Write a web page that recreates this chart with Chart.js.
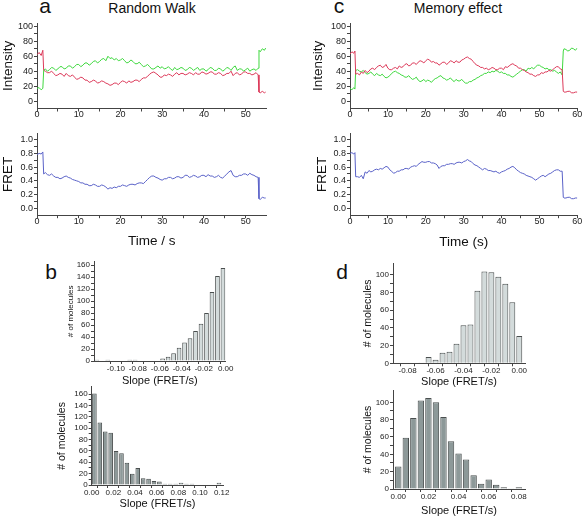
<!DOCTYPE html>
<html lang="en">
<head>
    <meta charset="UTF-8">
    <title>Random Walk / Memory effect</title>
    <script src="https://cdn.jsdelivr.net/npm/chart.js"></script>
    <style>
        body {
            margin: 0;
            width: 583px;
            height: 517px;
            overflow: hidden;
            position: relative;
            background: #fff;
            font-family: Arial, "Liberation Sans", sans-serif;
        }
        canvas { position: absolute; }
        .lbl {
            position: absolute;
            transform: translate(-50%, -50%);
            white-space: nowrap;
            line-height: 1;
            color: #111;
        }
    </style>
</head>
<body>
    <div class="lbl" style="left:45px;top:5px;font-size:21px">a</div>
    <div class="lbl" style="left:152px;top:8px;font-size:14px">Random Walk</div>
    <div class="lbl" style="left:339px;top:5px;font-size:21px">c</div>
    <div class="lbl" style="left:458px;top:8px;font-size:14px">Memory effect</div>
    <div class="lbl" style="left:51px;top:271px;font-size:21px">b</div>
    <div class="lbl" style="left:342px;top:271px;font-size:21px">d</div>

    <script>
        // ---- time traces, panel a (random walk) ----
        const timeA = [0, 0.5, 1, 1.4, 1.6, 2, 2.5, 3, 3.5, 4, 4.5, 5, 5.5, 6, 6.5, 7, 7.5, 8, 8.5, 9, 9.5, 10, 10.5,
            11, 11.5, 12, 12.5, 13, 13.5, 14, 14.5, 15, 15.5, 16, 16.5, 17, 17.5, 18, 18.5, 19, 19.5, 20, 20.5,
            21, 21.5, 22, 22.5, 23, 23.5, 24, 24.5, 25, 25.5, 26, 26.5, 27, 27.5, 28, 28.5, 29, 29.5, 30, 30.5,
            31, 31.5, 32, 32.5, 33, 33.5, 34, 34.5, 35, 35.5, 36, 36.5, 37, 37.5, 38, 38.5, 39, 39.5, 40, 40.5,
            41, 41.5, 42, 42.5, 43, 43.5, 44, 44.5, 45, 45.5, 46, 46.5, 47, 47.5, 48, 48.5, 49, 49.5, 50, 50.5,
            51, 51.5, 52, 52.5, 53, 53.2, 53.5, 54, 54.5, 54.8];
        const donorA = [17, 18, 15, 17, 41,
            43, 40, 42, 45, 44, 41, 43, 46, 46, 43, 44, 47, 47, 44, 46, 49, 49, 46, 48, 51,
            51, 48, 50, 53, 54, 51, 53, 56, 57, 54, 60, 57, 58, 55, 57, 54, 55, 57, 54, 51,
            52, 55, 53, 50, 50, 52, 49, 46, 47, 49, 46, 43, 43, 45, 47, 44, 46, 43, 44, 46,
            43, 41, 45, 42, 43, 45, 44, 41, 42, 45, 44, 41, 43, 45, 41, 43, 43, 40, 42, 45,
            44, 41, 41, 44, 43, 40, 42, 45, 44, 41, 45, 47, 41, 43, 43, 40, 42, 44, 40, 42,
            43, 41, 44,
            68, 66, 70, 68, 71];
        const acceptorA = [62, 65, 61, 68, 41,
            40, 38, 38, 40, 37, 34, 35, 37, 36, 33, 37, 34, 33, 35, 32, 29, 30, 32, 31, 28,
            28, 25, 26, 28, 27, 24, 25, 27, 26, 24, 23, 21, 22, 24, 24, 22, 25, 27, 26, 24,
            27, 25, 26, 28, 28, 26, 29, 31, 31, 33, 36, 38, 39, 37, 35, 32, 32, 35, 34, 36,
            35, 33, 36, 38, 35, 37, 37, 35, 36, 38, 37, 35, 38, 36, 36, 39, 38, 36, 37, 39,
            39, 36, 36, 38, 37, 34, 35, 37, 37, 40, 34, 37, 38, 35, 36, 39, 39, 37, 37, 35,
            36, 38, 35,
            12, 11, 13, 11, 12];
        const fretA = [0.78, 0.80, 0.79, 0.82, 0.50,
            0.52, 0.49, 0.48, 0.50, 0.47, 0.45, 0.45, 0.43, 0.44, 0.46, 0.47, 0.45, 0.44, 0.42, 0.41, 0.40, 0.39, 0.37, 0.37, 0.35,
            0.35, 0.33, 0.33, 0.35, 0.34, 0.32, 0.32, 0.34, 0.33, 0.31, 0.28, 0.30, 0.29, 0.31, 0.30, 0.32, 0.32, 0.34, 0.33, 0.32,
            0.34, 0.35, 0.35, 0.34, 0.36, 0.37, 0.37, 0.36, 0.39, 0.42, 0.45, 0.47, 0.47, 0.45, 0.44, 0.42, 0.41, 0.43, 0.43, 0.45,
            0.45, 0.43, 0.44, 0.46, 0.46, 0.44, 0.45, 0.48, 0.48, 0.45, 0.46, 0.48, 0.47, 0.45, 0.46, 0.48, 0.48, 0.46, 0.49, 0.47,
            0.47, 0.45, 0.46, 0.48, 0.45, 0.44, 0.47, 0.50, 0.53, 0.55, 0.48, 0.46, 0.46, 0.48, 0.48, 0.50, 0.50, 0.48, 0.51, 0.49,
            0.48, 0.46, 0.45,
            0.14, 0.13, 0.16, 0.15, 0.15];

        // ---- time traces, panel c (memory effect) ----
        const timeC = [0, 0.5, 1, 1.3, 1.5, 2, 2.5, 3, 3.5, 4, 4.5, 5, 5.5, 6, 6.5, 7, 7.5, 8, 8.5, 9, 9.5, 10, 10.5,
            11, 11.5, 12, 12.5, 13, 13.5, 14, 14.5, 15, 15.5, 16, 16.5, 17, 17.5, 18, 18.5, 19, 19.5, 20, 20.5,
            21, 21.5, 22, 22.5, 23, 23.5, 24, 24.5, 25, 25.5, 26, 26.5, 27, 27.5, 28, 28.5, 29, 29.5, 30, 30.5,
            31, 31.5, 32, 32.5, 33, 33.5, 34, 34.5, 35, 35.5, 36, 36.5, 37, 37.5, 38, 38.5, 39, 39.5, 40, 40.5,
            41, 41.5, 42, 42.5, 43, 43.5, 44, 44.5, 45, 45.5, 46, 46.5, 47, 47.5, 48, 48.5, 49, 49.5, 50, 50.5,
            51, 51.5, 52, 52.5, 53, 53.5, 54, 54.5, 55, 55.5, 56, 56.3, 56.5, 57, 57.5, 58, 58.5, 59, 59.5, 60];
        const acceptorC = [63, 66, 64, 67, 36,
            37, 35, 39, 37, 41, 38, 40, 43, 44, 42, 45, 47, 48, 45, 46, 49, 44, 42, 42, 44,
            45, 43, 47, 45, 46, 49, 50, 47, 48, 51, 51, 49, 52, 54, 53, 51, 54, 56, 55, 52,
            53, 51, 51, 48, 50, 52, 52, 49, 51, 54, 53, 51, 54, 52, 52, 55, 56, 58, 59, 57,
            56, 53, 50, 48, 47, 45, 45, 43, 44, 42, 43, 45, 44, 42, 42, 44, 44, 42, 46, 45,
            47, 49, 50, 48, 47, 44, 44, 42, 41, 39, 38, 36, 36, 34, 33, 35, 35, 38, 37, 39,
            39, 41, 40, 42, 44, 46, 46, 43, 42,
            13, 12, 12, 13, 13, 11, 11, 12, 12];
        const donorC = [17, 15, 18, 16, 41,
            42, 40, 39, 41, 38, 36, 37, 39, 36, 34, 37, 35, 34, 36, 33, 31, 32, 34, 37, 39,
            40, 38, 37, 35, 34, 32, 32, 34, 31, 29, 30, 32, 28, 26, 27, 29, 26, 28, 27, 25,
            28, 30, 31, 33, 34, 31, 30, 28, 29, 31, 28, 26, 29, 27, 27, 29, 26, 24, 24, 26,
            26, 28, 29, 31, 32, 34, 35, 37, 37, 39, 38, 40, 39, 41, 40, 38, 39, 37, 37, 35,
            35, 33, 32, 34, 36, 38, 40, 42, 42, 40, 44, 43, 45, 43, 46, 48, 48, 46, 45, 43,
            44, 42, 42, 40, 41, 39, 37, 39, 35,
            67, 70, 69, 67, 68, 71, 70, 68, 71];
        const fretC = [0.80, 0.81, 0.79, 0.81, 0.46,
            0.46, 0.45, 0.48, 0.43, 0.53, 0.51, 0.55, 0.53, 0.54, 0.56, 0.57, 0.56, 0.58, 0.57, 0.59, 0.61, 0.60, 0.56, 0.54, 0.51,
            0.52, 0.54, 0.54, 0.56, 0.56, 0.58, 0.58, 0.57, 0.60, 0.61, 0.62, 0.61, 0.64, 0.66, 0.68, 0.67, 0.67, 0.68, 0.68, 0.66,
            0.66, 0.65, 0.63, 0.58, 0.61, 0.62, 0.62, 0.64, 0.64, 0.65, 0.65, 0.64, 0.66, 0.67, 0.67, 0.66, 0.68, 0.69, 0.71, 0.69,
            0.68, 0.65, 0.63, 0.62, 0.60, 0.58, 0.56, 0.58, 0.57, 0.55, 0.55, 0.54, 0.53, 0.54, 0.52, 0.51, 0.53, 0.54, 0.55, 0.57,
            0.58, 0.60, 0.61, 0.59, 0.56, 0.54, 0.52, 0.51, 0.50, 0.48, 0.47, 0.46, 0.45, 0.43, 0.41, 0.43, 0.45, 0.47, 0.48, 0.46,
            0.48, 0.50, 0.51, 0.53, 0.55, 0.56, 0.56, 0.54, 0.54,
            0.16, 0.15, 0.15, 0.16, 0.16, 0.14, 0.14, 0.15, 0.15];

        // ---- slope histograms (bin centres, counts) ----
        const slopeBinsBNeg = [-0.1175, -0.1075, -0.0875, -0.0825, -0.0575, -0.0525, -0.0475, -0.0425, -0.0375,
            -0.0325, -0.0275, -0.0225, -0.0175, -0.0125, -0.0075, -0.0025];
        const countsBNeg = [2, 2, 2, 2, 4, 7, 13, 22, 31, 38, 50, 62, 80, 115, 142, 155];
        const slopeBinsBPos = [0.0025, 0.0075, 0.0125, 0.0175, 0.0225, 0.0275, 0.0325, 0.0375, 0.0425, 0.0475,
            0.0525, 0.0575, 0.0625, 0.0675, 0.0725, 0.0775, 0.0825, 0.0875, 0.0925, 0.1175];
        const countsBPos = [161, 110, 94, 92, 60, 56, 39, 20, 30, 12, 11, 7, 6, 2, 2, 2, 4, 2, 2, 4];
        const slopeBinsDNeg = [-0.07, -0.065, -0.06, -0.055, -0.05, -0.045, -0.04, -0.035, -0.03, -0.025, -0.02,
            -0.015, -0.01, -0.005, 0];
        const countsDNeg = [1, 7, 4, 12, 13, 22, 43, 44, 82, 104, 103, 98, 90, 69, 31];
        const slopeBinsDPos = [0, 0.005, 0.01, 0.015, 0.02, 0.025, 0.03, 0.035, 0.04, 0.045, 0.05, 0.055, 0.06,
            0.065, 0.07, 0.075, 0.08];
        const countsDPos = [26, 59, 82, 102, 105, 100, 83, 55, 41, 34, 16, 6, 11, 5, 2, 1, 2];

        // ---- tick labels ----
        const intensityTicks = [0, 20, 40, 60, 80, 100];
        const fretTicks = [0, 0.2, 0.4, 0.6, 0.8, 1.0];
        const timeTicksA = [0, 10, 20, 30, 40, 50];
        const timeTicksC = [0, 10, 20, 30, 40, 50, 60];
        const slopeTicksBNeg = [-0.10, -0.08, -0.06, -0.04, -0.02, 0];
        const slopeTicksBPos = [0, 0.02, 0.04, 0.06, 0.08, 0.10, 0.12];
        const slopeTicksDNeg = [-0.08, -0.06, -0.04, -0.02, 0];
        const slopeTicksDPos = [0, 0.02, 0.04, 0.06, 0.08];
        const countTicksB = [0, 20, 40, 60, 80, 100, 120, 140, 160];
        const countTicksD = [0, 20, 40, 60, 80, 100];

        const GREEN = '#3fd83f', RED = '#dc3a5a', BLUE = '#5a62c8';
        const LIGHT_BAR = '#d3dbdb', DARK_BAR = '#8d9999';
        const AXIS = '#444';

        Chart.defaults.font.family = 'Arial, "Liberation Sans", sans-serif';
        Chart.defaults.color = '#222';
        Chart.defaults.animation = false;

        // majors plus a minor tick half way between
        function withMinors(majors) {
            const out = [];
            majors.forEach((v, i) => {
                out.push(v);
                if (i < majors.length - 1) out.push((v + majors[i + 1]) / 2);
            });
            return out;
        }

        function axis(min, max, majors, fmt, size, title, pad) {
            const all = withMinors(majors);
            return {
                type: 'linear', min: min, max: max, offset: false,
                afterBuildTicks: s => { s.ticks = all.map(v => ({ value: v })); },
                ticks: {
                    autoSkip: false, maxRotation: 0, padding: pad, font: { size: size }, color: '#222',
                    callback: v => majors.some(m => Math.abs(m - v) < 1e-9) ? fmt(v) : ''
                },
                grid: { drawOnChartArea: false, drawTicks: true, tickLength: 3, color: AXIS },
                border: { display: true, color: AXIS, width: 1 },
                title: title
                    ? { display: true, text: title.text, font: { size: title.size }, padding: 0, color: '#111' }
                    : { display: false }
            };
        }

        // box: plot area x0..x1 / y0..y1, canvas left edge and bottom edge
        function panel(box, type, datasets, xScale, yScale) {
            const left = Math.round(box.left), top = Math.round(box.y0 - 6);
            const w = Math.round(box.x1 + 22 - left), h = Math.round(box.bottom - top);
            const cv = document.createElement('canvas');
            cv.width = w; cv.height = h;
            cv.style.left = left + 'px';
            cv.style.top = top + 'px';
            document.body.appendChild(cv);
            xScale.afterFit = s => { s.height = top + h - box.y1; };
            yScale.afterFit = s => { s.width = box.x0 - left; };
            return new Chart(cv, {
                type: type,
                data: { datasets: datasets },
                options: {
                    responsive: false,
                    devicePixelRatio: 1,
                    layout: { padding: { top: box.y0 - top, right: left + w - box.x1, left: 0, bottom: 0 } },
                    plugins: { legend: { display: false }, tooltip: { enabled: false } },
                    scales: { x: xScale, y: yScale }
                }
            });
        }

        const pts = (xs, ys) => xs.map((x, i) => ({ x: x, y: ys[i] }));
        const trace = (xs, ys, color) => ({
            data: pts(xs, ys), borderColor: color, borderWidth: 1, pointRadius: 0, tension: 0, fill: false
        });
        const hist = (xs, ys, fill) => ({
            data: pts(xs, ys), backgroundColor: fill, borderColor: '#4a4f4f', borderWidth: 1,
            barPercentage: 0.85, categoryPercentage: 1
        });

        const fInt = v => String(Math.round(v));
        const fOne = v => v.toFixed(1);
        const fTwo = v => v.toFixed(2);

        // panel a
        panel({ x0: 37, x1: 266.5, y0: 23, y1: 108.5, left: -0.1, bottom: 125 }, 'line',
            [trace(timeA, donorA, GREEN), trace(timeA, acceptorA, RED)],
            axis(0, 55, timeTicksA, fInt, 9, null, -2),
            axis(-10, 104, intensityTicks, fInt, 9, { text: 'Intensity', size: 13.5 }, 1));
        panel({ x0: 37, x1: 266.5, y0: 132.8, y1: 215.2, left: -0.1, bottom: 248.8 }, 'line',
            [trace(timeA, fretA, BLUE)],
            axis(0, 55, timeTicksA, fInt, 9, { text: 'Time / s', size: 13.5 }, -2),
            axis(-0.1, 1.09, fretTicks, fOne, 9, { text: 'FRET', size: 13.5 }, 1));

        // panel c
        panel({ x0: 350, x1: 577.3, y0: 23, y1: 108.5, left: 309.9, bottom: 125 }, 'line',
            [trace(timeC, acceptorC, RED), trace(timeC, donorC, GREEN)],
            axis(0, 60, timeTicksC, fInt, 9, null, -2),
            axis(-10, 104, intensityTicks, fInt, 9, { text: 'Intensity', size: 13.5 }, 1));
        panel({ x0: 350, x1: 577.3, y0: 132.8, y1: 215.2, left: 313.9, bottom: 249.8 }, 'line',
            [trace(timeC, fretC, BLUE)],
            axis(0, 60, timeTicksC, fInt, 9, { text: 'Time (s)', size: 13.5 }, -2),
            axis(-0.1, 1.09, fretTicks, fOne, 9, { text: 'FRET', size: 13.5 }, 1));

        // panel b
        panel({ x0: 94, x1: 225.7, y0: 261.7, y1: 361, left: 66.2, bottom: 387.6 }, 'bar',
            [hist(slopeBinsBNeg, countsBNeg, LIGHT_BAR)],
            axis(-0.12, 0, slopeTicksBNeg, fTwo, 8, { text: 'Slope (FRET/s)', size: 11 }, 0),
            axis(0, 165.5, countTicksB, fInt, 8, { text: '# of molecules', size: 8 }, 1));
        panel({ x0: 91.7, x1: 223.3, y0: 386.7, y1: 485, left: 55.7, bottom: 510.6 }, 'bar',
            [hist(slopeBinsBPos, countsBPos, DARK_BAR)],
            axis(0, 0.1215, slopeTicksBPos, fTwo, 8, { text: 'Slope (FRET/s)', size: 11 }, 0),
            axis(0, 172.8, countTicksB, fInt, 8, { text: '# of molecules', size: 10.5 }, 1));

        // panel d
        panel({ x0: 393, x1: 525, y0: 263.3, y1: 363.3, left: 361.7, bottom: 388.6 }, 'bar',
            [hist(slopeBinsDNeg, countsDNeg, LIGHT_BAR)],
            axis(-0.0905, 0.0041, slopeTicksDNeg, fTwo, 8, { text: 'Slope (FRET/s)', size: 11 }, 0),
            axis(0, 113.2, countTicksD, fInt, 8, { text: '# of molecules', size: 10.5 }, 1));
        panel({ x0: 393, x1: 525, y0: 390, y1: 489, left: 361.7, bottom: 518.3 }, 'bar',
            [hist(slopeBinsDPos, countsDPos, DARK_BAR)],
            axis(-0.0035, 0.0841, slopeTicksDPos, fTwo, 8, { text: 'Slope (FRET/s)', size: 11 }, 0),
            axis(0, 114.2, countTicksD, fInt, 8, { text: '# of molecules', size: 10.5 }, 1));
    </script>
</body>
</html>
